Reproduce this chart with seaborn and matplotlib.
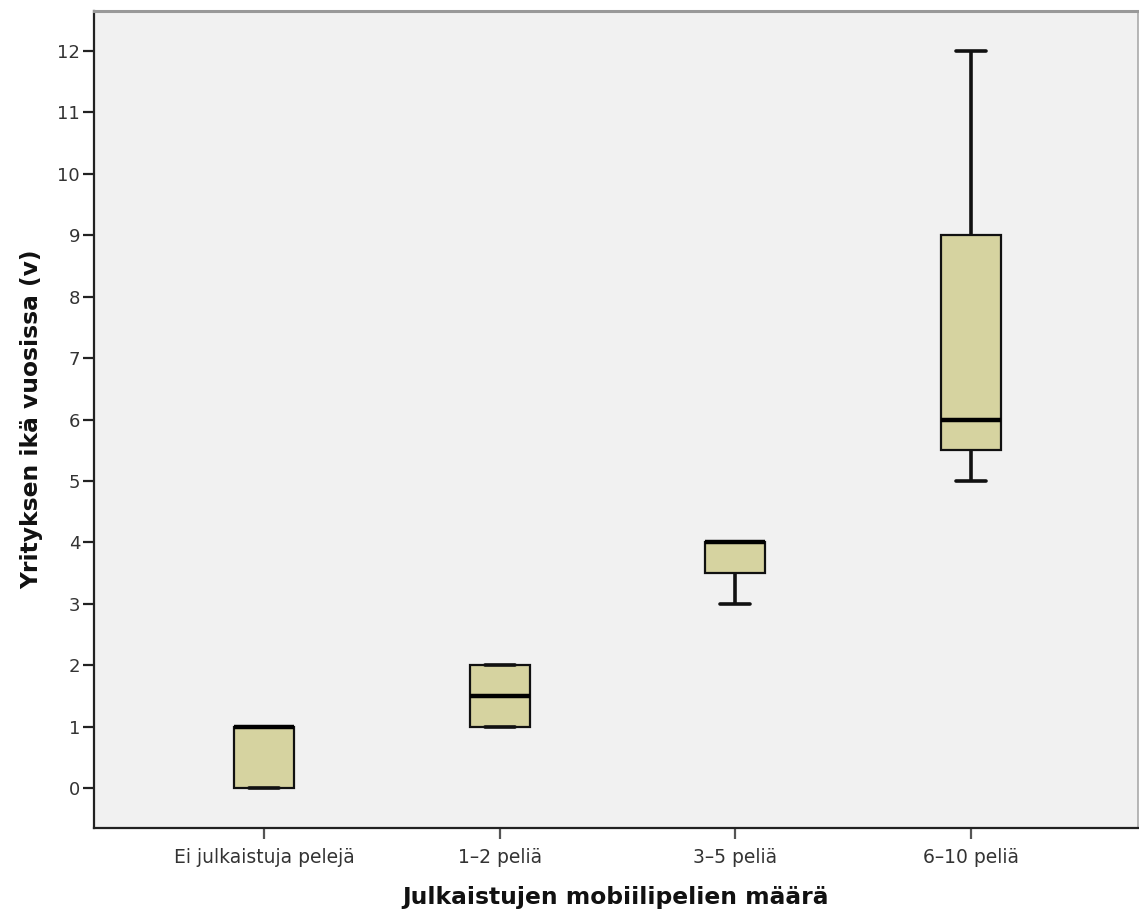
import matplotlib
matplotlib.use("Agg")
import matplotlib.pyplot as plt
import seaborn as sns
import pandas as pd

# Company age (years) per number of published mobile games
categories = ["Ei julkaistuja pelejä", "1–2 peliä", "3–5 peliä", "6–10 peliä"]
ages_none = [0, 0, 1, 1, 1]
ages_1_2 = [1, 1, 2, 2]
ages_3_5 = [3, 3, 4, 4, 4, 4, 4]
ages_6_10 = [5, 5, 6, 6, 8, 10, 12]
y_ticks = list(range(0, 13))

groups = [ages_none, ages_1_2, ages_3_5, ages_6_10]
df = pd.DataFrame({
    "ryhma": [c for c, g in zip(categories, groups) for _ in g],
    "ika": [v for g in groups for v in g],
})

sns.set_theme(style="white")
plt.rcParams["font.family"] = ["DejaVu Sans"]

fig = plt.figure(figsize=(11.39, 9.13), dpi=100)
ax = fig.add_axes([0.0825, 0.093, 0.9165, 0.895])
ax.set_facecolor("#f1f1f1")

sns.boxplot(
    data=df, x="ryhma", y="ika", order=categories, ax=ax,
    color="#d6d3a0", saturation=1, width=0.255, showfliers=False,
    linecolor="#111111", linewidth=1.6,
    medianprops=dict(linewidth=3.2, color="black"),
    whiskerprops=dict(linewidth=2.6, color="#111111"),
    capprops=dict(linewidth=2.6, color="#111111"),
)

ax.set_xlim(-0.723, 3.71)
ax.set_ylim(-0.65, 12.65)
ax.set_yticks(y_ticks)
ax.set_yticklabels([str(t) for t in y_ticks])

ax.set_xlabel("Julkaistujen mobiilipelien määrä", fontsize=16.8, fontweight="bold",
              color="#111111", labelpad=14)
ax.set_ylabel("Yrityksen ikä vuosissa (v)", fontsize=16.8, fontweight="bold",
              color="#111111", labelpad=10)

ax.tick_params(axis="y", which="major", direction="out", length=8, width=1.6,
               color="#222222", labelsize=13, labelcolor="#333333", pad=2, left=True)
ax.tick_params(axis="x", which="major", direction="out", length=8, width=1.6,
               color="#555555", labelsize=13.5, labelcolor="#333333", pad=6, bottom=True)

for side in ["left", "bottom"]:
    ax.spines[side].set_color("#222222")
    ax.spines[side].set_linewidth(1.6)
ax.spines["top"].set_color("#999999")
ax.spines["top"].set_linewidth(2.2)
ax.spines["right"].set_color("#aaaaaa")
ax.spines["right"].set_linewidth(1.2)

fig.savefig("out.png", dpi=100, facecolor="white")
